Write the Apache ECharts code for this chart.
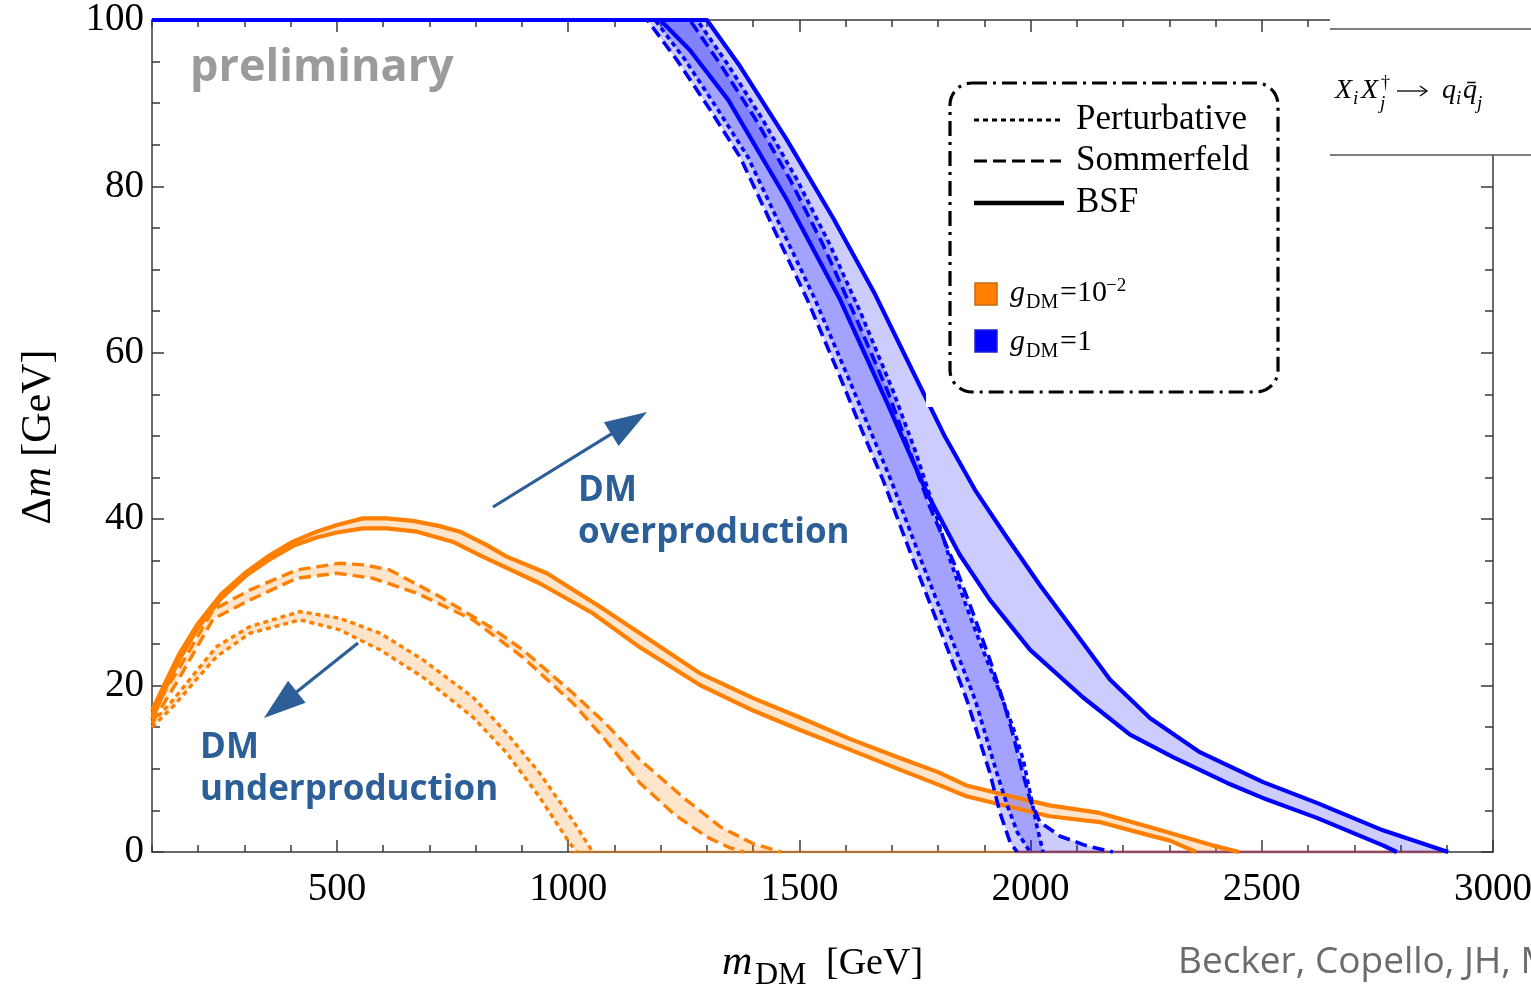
<!DOCTYPE html>
<html><head><meta charset="utf-8">
<script src="https://cdn.jsdelivr.net/npm/echarts@6/dist/echarts.min.js"></script>
<style>html,body{margin:0;padding:0;background:#fff}#c{width:1531px;height:989px}</style>
</head><body><div id="c"></div>
<script>
// ---------- tick labels ----------
const xMajorTicks = [500, 1000, 1500, 2000, 2500, 3000];
const yTickStep = 20;

// ---------- g_DM = 1e-2 (orange) ----------
const orangeBsfUpper = [[100,17.0],[130,20.5],[160,23.9],[200,27.5],[250,31.0],[305,33.7],[350,35.5],[405,37.3],[456,38.5],[500,39.3],[556,40.1],[608,40.1],[664,39.8],[720,39.2],[766,38.5],[820,37.0],[867,35.5],[954,33.5],[1068,29.5],[1155,26.3],[1284,21.5],[1400,18.5],[1500,16.2],[1609,13.6],[1717,11.3],[1800,9.6],[1861,8.0],[1950,6.8],[2041,5.6],[2149,4.7],[2257,3.0],[2393,0.8],[2451,0]];
const orangeBsfLower = [[100,16.0],[130,19.8],[160,23.2],[200,27.0],[250,30.5],[305,33.3],[350,35.0],[405,36.8],[456,37.8],[500,38.4],[556,38.9],[608,38.9],[673,38.5],[750,37.3],[815,35.5],[938,32.3],[1053,28.7],[1155,24.6],[1284,20.1],[1400,17.0],[1500,14.7],[1609,12.3],[1717,9.9],[1800,8.1],[1861,6.7],[1950,5.5],[2041,4.3],[2149,3.6],[2257,2.0],[2300,1.4],[2358,0]];
const orangeSomUpper = [[100,16.5],[130,19.5],[160,22.2],[232,29.1],[312,31.5],[413,33.9],[506,34.7],[560,34.5],[614,33.9],[722,30.7],[830,27.1],[902,24.3],[1010,19.1],[1080,15.5],[1155,11.1],[1250,6.5],[1330,3.0],[1400,1.0],[1460,0]];
const orangeSomLower = [[100,15.5],[160,21.0],[232,28.0],[312,30.3],[413,32.9],[500,33.5],[578,32.9],[673,31.1],[794,27.9],[902,23.4],[1010,17.9],[1080,13.5],[1155,8.3],[1230,4.5],[1300,1.8],[1350,0.5],[1380,0]];
const orangePertUpper = [[100,15.5],[146,18.3],[200,22.0],[240,24.7],[312,27.1],[420,28.9],[506,28.1],[593,26.3],[686,23.1],[794,18.6],[867,14.3],[938,9.5],[1010,3.8],[1053,0]];
const orangePertLower = [[100,15.0],[146,17.5],[200,21.0],[240,23.5],[312,26.3],[420,27.9],[506,26.7],[593,24.3],[686,21.0],[794,16.2],[867,11.9],[938,6.6],[1003,1.1],[1018,0]];
const orangeZero = [[1003,0],[2903,0]];

// ---------- g_DM = 1 (blue) ----------
const blueBsfRight = [[100,100],[1300,100],[1372,94.4],[1473,85.6],[1573,76.2],[1664,67.0],[1744,57.9],[1815,49.9],[1880,43.5],[1945,38.1],[2020,32.1],[2096,26.4],[2172,20.7],[2258,16.1],[2366,12.0],[2503,8.4],[2619,5.9],[2762,2.6],[2903,0]];
const blueBsfLeft = [[100,100],[1199,100],[1263,96.4],[1346,90.4],[1473,78.4],[1588,66.4],[1687,54.3],[1778,42.9],[1847,35.7],[1912,30.3],[1999,24.3],[2113,18.6],[2215,14.1],[2308,11.4],[2425,8.3],[2511,6.3],[2619,4.1],[2762,0.8],[2792,0]];
const blueSomLeft = [[100,100],[1171,100],[1235,95.2],[1307,89.2],[1372,83.5],[1443,75.1],[1517,66.4],[1588,57.1],[1635,50.7],[1681,44.7],[1746,35.1],[1811,25.8],[1862,18.3],[1912,9.5],[1934,4.7],[1956,1.1],[1971,0]];
const bluePertLeft = [[100,100],[1188,100],[1253,95.2],[1324,89.2],[1389,83.5],[1460,75.1],[1534,66.4],[1605,57.1],[1653,50.7],[1698,44.7],[1763,35.1],[1828,25.8],[1880,18.3],[1927,9.5],[1949,5.7],[1971,2.4],[1999,0]];
const blueSomRight = [[100,100],[1263,100],[1330,94.6],[1406,88.0],[1480,80.8],[1551,73.0],[1620,64.5],[1690,55.5],[1739,48.1],[1782,41.5],[1836,34.5],[1873,29.1],[1912,23.1],[1940,18.3],[1962,14.1],[1981,9.9],[1999,6.3],[2020,3.6],[2064,1.9],[2118,0.8],[2178,0]];
const bluePertRight = [[100,100],[1279,100],[1346,94.6],[1421,88.0],[1495,80.8],[1566,73.0],[1635,64.5],[1702,55.5],[1750,48.3],[1789,41.7],[1826,35.1],[1860,29.7],[1891,25.1],[1927,20.1],[1962,15.0],[1984,11.1],[1999,7.1],[2014,3.0],[2027,0]];
const blueZero = [[1971,0],[2903,0]];

// ---------- styling ----------
const ORANGE = '#ff7f00', ORANGE_FILL = 'rgba(255,127,0,0.2)';
const BLUE = '#0000ff', BLUE_FILL = 'rgba(0,0,255,0.2)';
const SERIF = "'Liberation Serif', 'DejaVu Serif', serif";
const SANS = "'Open Sans', 'Noto Sans', sans-serif";
const NOTE = '#2c5f97';
const DOT = [5, 4], DASH = [12, 6];

const series = [];
function band(name, a, b, fill) {
  const poly = a.concat(b.slice().reverse());
  series.push({
    type: 'custom', name: name, coordinateSystem: 'cartesian2d', xAxisIndex: 0, yAxisIndex: 0,
    data: poly, silent: true, clip: true, z: 1,
    renderItem: function (params, api) {
      if (params.dataIndex !== 0) return null;
      return { type: 'polygon', shape: { points: poly.map(p => api.coord(p)) }, style: { fill: fill } };
    }
  });
}
function line(name, data, color, type, width, z) {
  series.push({
    type: 'line', name: name, data: data, xAxisIndex: 0, yAxisIndex: 0, showSymbol: false, symbol: 'none',
    silent: true, clip: true, z: z, lineStyle: { color: color, width: width, type: type, join: 'round' }
  });
}
band('blue BSF', blueBsfLeft, blueBsfRight, BLUE_FILL);
band('blue Sommerfeld', blueSomLeft, blueSomRight, BLUE_FILL);
band('blue Perturbative', bluePertLeft, bluePertRight, BLUE_FILL);
band('orange BSF', orangeBsfUpper, orangeBsfLower, ORANGE_FILL);
band('orange Sommerfeld', orangeSomUpper, orangeSomLower, ORANGE_FILL);
band('orange Perturbative', orangePertUpper, orangePertLower, ORANGE_FILL);
line('orange zero', orangeZero, 'rgba(255,127,0,0.45)', 'solid', 3, 2);
line('blue zero', blueZero, 'rgba(70,0,170,0.35)', 'solid', 3, 2);
line('o BSF up', orangeBsfUpper, ORANGE, 'solid', 4.2, 3);
line('o BSF lo', orangeBsfLower, ORANGE, 'solid', 4.2, 3);
line('o Som up', orangeSomUpper, ORANGE, DASH, 3.4, 3);
line('o Som lo', orangeSomLower, ORANGE, DASH, 3.4, 3);
line('o Pert up', orangePertUpper, ORANGE, DOT, 3.4, 3);
line('o Pert lo', orangePertLower, ORANGE, DOT, 3.4, 3);
line('b BSF r', blueBsfRight, BLUE, 'solid', 4.2, 4);
line('b BSF l', blueBsfLeft, BLUE, 'solid', 4.2, 4);
line('b Som l', blueSomLeft, BLUE, DASH, 3.6, 4);
line('b Som r', blueSomRight, BLUE, DASH, 3.6, 4);
line('b Pert l', bluePertLeft, BLUE, DOT, 3.6, 4);
line('b Pert r', bluePertRight, BLUE, DOT, 3.6, 4);

const AX = { color: '#3a3a3a', width: 1.5 };
function xAxis(pos, major, labels) {
  const o = {
    type: 'value', min: 100, max: 3000, position: pos, splitLine: { show: false },
    axisLine: { show: major, lineStyle: AX },
    axisLabel: { show: false }
  };
  if (major) {
    o.axisTick = { show: true, inside: true, length: 12, customValues: xMajorTicks, lineStyle: AX };
    if (labels) o.axisLabel = { show: true, customValues: xMajorTicks, formatter: v => String(v), fontFamily: SERIF, fontSize: 39, color: '#000', margin: 18 };
  } else {
    o.interval = 100;
    o.axisTick = { show: true, inside: true, length: 7, lineStyle: AX };
  }
  return o;
}
function yAxis(pos, labels) {
  return {
    type: 'value', min: 0, max: 100, interval: yTickStep, position: pos, splitLine: { show: false },
    axisLine: { show: true, lineStyle: AX },
    axisTick: { show: true, inside: true, length: 12, lineStyle: AX },
    minorTick: { show: true, splitNumber: 4, length: 8, lineStyle: AX },
    axisLabel: labels ? { show: true, fontFamily: SERIF, fontSize: 39, color: '#000', margin: 8 } : { show: false }
  };
}

function T(x, y, text, font, extra) {
  return { type: 'text', x: x, y: y, z: 200, silent: true,
    style: Object.assign({ text: text, font: font, fill: '#000', verticalAlign: 'middle', align: 'left' }, extra || {}) };
}
function arrow(x1, y1, x2, y2) {
  const dx = x2 - x1, dy = y2 - y1, L = Math.hypot(dx, dy), ux = dx / L, uy = dy / L;
  const hl = 42, hw = 14, bx = x2 - ux * hl, by = y2 - uy * hl;
  return [
    { type: 'line', z: 150, silent: true, shape: { x1: x1, y1: y1, x2: bx + ux * 4, y2: by + uy * 4 }, style: { stroke: NOTE, lineWidth: 3.2 } },
    { type: 'polygon', z: 150, silent: true, shape: { points: [[x2, y2], [bx - uy * hw, by + ux * hw], [bx + uy * hw, by - ux * hw]] }, style: { fill: NOTE } }
  ];
}

const graphic = [
  // top-right label box
  { type: 'rect', z: 120, silent: true, shape: { x: 1330, y: 0, width: 201, height: 155 }, style: { fill: '#fff' } },
  { type: 'line', z: 121, silent: true, shape: { x1: 1330, y1: 29, x2: 1531, y2: 29 }, style: { stroke: '#555', lineWidth: 1.5 } },
  { type: 'line', z: 121, silent: true, shape: { x1: 1330, y1: 155, x2: 1531, y2: 155 }, style: { stroke: '#555', lineWidth: 1.5 } },
  T(1335, 91, 'X', 'italic 28px ' + SERIF),
  T(1353, 99, 'i', 'italic 19px ' + SERIF),
  T(1361, 91, 'X', 'italic 28px ' + SERIF),
  T(1381, 83, '\u2020', '18px ' + SERIF),
  T(1380, 104, 'j', 'italic 19px ' + SERIF),
  { type: 'line', z: 200, silent: true, shape: { x1: 1397, y1: 91, x2: 1426, y2: 91 }, style: { stroke: '#000', lineWidth: 1.3 } },
  { type: 'polyline', z: 200, silent: true, shape: { points: [[1420, 86], [1427, 91], [1420, 96]] }, style: { stroke: '#000', lineWidth: 1.3, fill: null } },
  T(1442, 91, 'q', 'italic 28px ' + SERIF),
  T(1456, 99, 'i', 'italic 19px ' + SERIF),
  T(1463, 91, 'q\u0304', 'italic 28px ' + SERIF),
  T(1477, 104, 'j', 'italic 19px ' + SERIF),

  // legend box
  { type: 'rect', z: 110, silent: true, shape: { x: 926, y: 66, width: 366, height: 341 }, style: { fill: '#fff' } },
  { type: 'rect', z: 111, silent: true, shape: { x: 950, y: 83, width: 328, height: 309, r: 22 },
    style: { fill: '#fff', stroke: '#000', lineWidth: 3.2, lineDash: [15, 6, 3, 6] } },
  { type: 'line', z: 112, silent: true, shape: { x1: 974, y1: 120, x2: 1061, y2: 120 }, style: { stroke: '#000', lineWidth: 3.2, lineDash: [5, 4] } },
  { type: 'line', z: 112, silent: true, shape: { x1: 974, y1: 161, x2: 1061, y2: 161 }, style: { stroke: '#000', lineWidth: 3.2, lineDash: [13, 6] } },
  { type: 'line', z: 112, silent: true, shape: { x1: 974, y1: 203, x2: 1064, y2: 203 }, style: { stroke: '#000', lineWidth: 4.5 } },
  T(1076, 120, 'Perturbative', '35px ' + SERIF),
  T(1076, 161, 'Sommerfeld', '35px ' + SERIF),
  T(1076, 203, 'BSF', '35px ' + SERIF),
  { type: 'rect', z: 112, silent: true, shape: { x: 975, y: 283, width: 22, height: 22 }, style: { fill: ORANGE, stroke: '#c86a10', lineWidth: 1.5 } },
  { type: 'rect', z: 112, silent: true, shape: { x: 975, y: 330, width: 22, height: 22 }, style: { fill: BLUE, stroke: '#2020d0', lineWidth: 1.5 } },
  T(1010, 293, 'g', 'italic 30px ' + SERIF),
  T(1026, 303, 'DM', '20px ' + SERIF),
  T(1060, 293, '=10', '30px ' + SERIF),
  T(1106, 286, '\u22122', '19px ' + SERIF),
  T(1010, 342, 'g', 'italic 30px ' + SERIF),
  T(1026, 352, 'DM', '20px ' + SERIF),
  T(1060, 342, '=1', '30px ' + SERIF),

  // annotations
  T(190, 68, 'preliminary', 'bold 45px ' + SANS, { fill: '#9b9b9b' }),
  T(578, 491, 'DM', 'bold 35px ' + SANS, { fill: NOTE }),
  T(578, 533, 'overproduction', 'bold 35px ' + SANS, { fill: NOTE }),
  T(200, 748, 'DM', 'bold 35px ' + SANS, { fill: NOTE }),
  T(200, 790, 'underproduction', 'bold 35px ' + SANS, { fill: NOTE })
].concat(arrow(493, 507, 647, 412), arrow(358, 643, 264, 718), [
  // axis titles
  T(722, 963, 'm', 'italic 42px ' + SERIF),
  T(755, 976, 'DM', '32px ' + SERIF),
  T(826, 964, '[GeV]', '38px ' + SERIF),
  { type: 'text', x: 39, y: 437, rotation: Math.PI / 2, z: 200, silent: true,
    style: { text: '{a|\u0394}{b|m}{a| [GeV]}', align: 'center', verticalAlign: 'middle',
      rich: { a: { font: '42px ' + SERIF, fill: '#000' }, b: { font: 'italic 42px ' + SERIF, fill: '#000' } } } },
  { type: 'text', x: 1178, y: 962, z: 200, silent: true,
    style: { text: 'Becker, Copello, JH, Mohan, Sengupta', font: '37px ' + SANS, fill: '#6b6b6b', verticalAlign: 'middle' } }
]);

const chart = echarts.init(document.getElementById('c'));
chart.setOption({
  animation: false,
  backgroundColor: '#fff',
  grid: { left: 152, right: 38, top: 20, bottom: 137, containLabel: false, outerBoundsMode: 'none' },
  xAxis: [xAxis('bottom', true, true), xAxis('bottom', false), xAxis('top', true, false), xAxis('top', false)],
  yAxis: [yAxis('left', true), yAxis('right', false)],
  series: series,
  graphic: graphic
});
</script>
</body></html>
